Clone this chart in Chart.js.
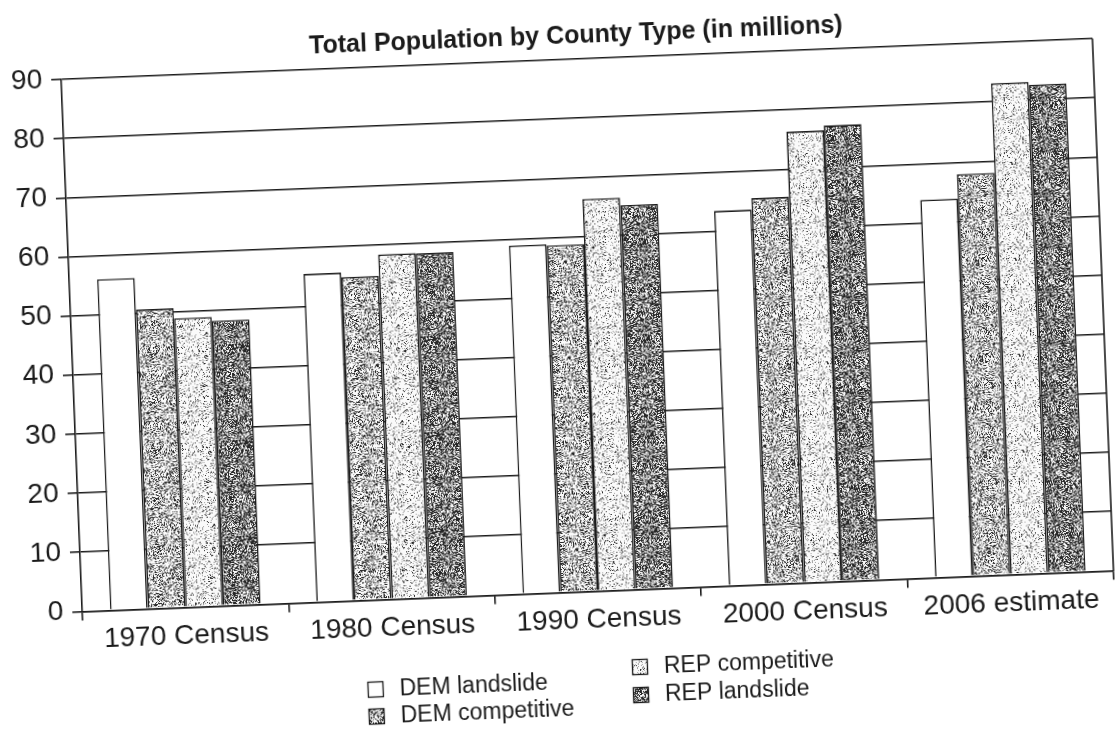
<!DOCTYPE html>
<html>
<head>
<meta charset="utf-8">
<title>Total Population by County Type</title>
<script src="https://cdn.jsdelivr.net/npm/chart.js@4.4.1/dist/chart.umd.min.js"></script>
<style>
    html, body { margin: 0; padding: 0; background: #fff; overflow: hidden; }
    #wrap {
        width: 1116px;
        height: 734px;
        transform: rotate(-2.27deg);
        transform-origin: 558px 367px;
    }
</style>
</head>
<body>
<div id="wrap"><canvas id="pop-chart" width="1116" height="734"></canvas></div>
<script>
// ==========================================
// DATA (millions of people)
// ==========================================
const categories = ['1970 Census', '1980 Census', '1990 Census', '2000 Census', '2006 estimate'];
const seriesNames = ['DEM landslide', 'DEM competitive', 'REP competitive', 'REP landslide'];
const demLandslide = [56.0, 55.5, 58.9, 63.4, 63.9];
const demCompetitive = [50.6, 54.7, 58.7, 65.3, 68.0];
const repCompetitive = [48.9, 58.3, 66.3, 76.3, 83.1];
const repLandslide = [48.2, 58.2, 65.0, 77.1, 82.6];
const yTickValues = [0, 10, 20, 30, 40, 50, 60, 70, 80, 90];

const INK = '#1b1b1b';
const FONT = "'Liberation Sans', Arial, sans-serif";

// Simple hash so the stipple texture looks the same on every run
function hash(x, y, s) {
    let h = (x * 374761393 + y * 668265263 + s * 1442695041) | 0;
    h = Math.imul(h ^ (h >>> 13), 1274126177);
    h = h ^ (h >>> 16);
    return (h >>> 0) / 4294967296;
}

// Build a stipple pattern (dark = share of black dots, mid = share of grey dots)
function makeStipple(dark, mid, seed) {
    const size = 96;
    const c = document.createElement('canvas');
    c.width = size;
    c.height = size;
    const g = c.getContext('2d');
    const img = g.createImageData(size, size);
    for (let y = 0; y < size; y++) {
        for (let x = 0; x < size; x++) {
            const r = hash(x, y, seed);
            const v = r < dark ? 40 : (r < dark + mid ? 160 : 250);
            const i = (y * size + x) * 4;
            img.data[i] = v;
            img.data[i + 1] = v;
            img.data[i + 2] = v;
            img.data[i + 3] = 255;
        }
    }
    g.putImageData(img, 0, 0);
    return g.createPattern(c, 'repeat');
}

const fills = [
    '#ffffff',
    makeStipple(0.25, 0.22, 7),
    makeStipple(0.07, 0.15, 13),
    makeStipple(0.48, 0.22, 29)
];

// Frame on the right side + 2x2 legend under the axis
const extrasPlugin = {
    id: 'extras',
    afterDraw(chart) {
        const { ctx, chartArea } = chart;
        ctx.save();
        ctx.strokeStyle = INK;
        ctx.lineWidth = 1.6;
        ctx.beginPath();
        ctx.moveTo(chartArea.right, chartArea.top);
        ctx.lineTo(chartArea.right, chartArea.bottom);
        ctx.stroke();

        // legend: column 1 = DEM, column 2 = REP
        const spots = [
            { x: 363, y: 682 },
            { x: 363, y: 709 },
            { x: 628, y: 670 },
            { x: 628, y: 698 }
        ];
        const box = 15;
        ctx.font = '23px ' + FONT;
        ctx.textBaseline = 'middle';
        ctx.textAlign = 'left';
        chart.data.datasets.forEach((ds, i) => {
            const s = spots[i];
            ctx.fillStyle = ds.backgroundColor;
            ctx.fillRect(s.x - box / 2, s.y - box / 2, box, box);
            ctx.lineWidth = 1.3;
            ctx.strokeRect(s.x - box / 2, s.y - box / 2, box, box);
            ctx.fillStyle = INK;
            ctx.fillText(ds.label, s.x + 24, s.y + 1);
        });
        ctx.restore();
    }
};

const seriesValues = [demLandslide, demCompetitive, repCompetitive, repLandslide];

const popChart = new Chart(document.getElementById('pop-chart'), {
    type: 'bar',
    data: {
        labels: categories,
        datasets: seriesNames.map((name, i) => ({
            label: name,
            data: seriesValues[i],
            backgroundColor: fills[i],
            borderColor: INK,
            borderWidth: 1.6,
            borderSkipped: 'bottom'
        }))
    },
    options: {
        responsive: false,
        animation: false,
        devicePixelRatio: 1,
        categoryPercentage: 0.73,
        barPercentage: 1.0,
        layout: {
            padding: { left: 0, right: 11, top: 0, bottom: 93 }
        },
        scales: {
            y: {
                min: 0,
                max: 90,
                afterBuildTicks: (scale) => {
                    scale.ticks = yTickValues.map(v => ({ value: v }));
                },
                afterFit: (scale) => { scale.width = 73; },
                ticks: {
                    color: INK,
                    padding: 9,
                    font: { family: FONT, size: 28 }
                },
                grid: {
                    color: INK,
                    lineWidth: 1.6,
                    drawTicks: true,
                    tickLength: 10
                },
                border: { display: true, color: INK, width: 1.6 }
            },
            x: {
                ticks: {
                    color: INK,
                    padding: 3,
                    font: { family: FONT, size: 28 }
                },
                grid: {
                    offset: true,
                    drawOnChartArea: false,
                    drawTicks: true,
                    tickLength: 9,
                    color: INK,
                    lineWidth: 1.6
                },
                border: { display: true, color: INK, width: 1.6 }
            }
        },
        plugins: {
            legend: { display: false },
            tooltip: { enabled: false },
            title: {
                display: true,
                fullSize: false,
                text: 'Total Population by County Type (in millions)',
                color: INK,
                font: { family: FONT, size: 25, weight: 'bold' },
                padding: { top: 22, bottom: 8 }
            }
        }
    },
    plugins: [extrasPlugin]
});
</script>
</body>
</html>
